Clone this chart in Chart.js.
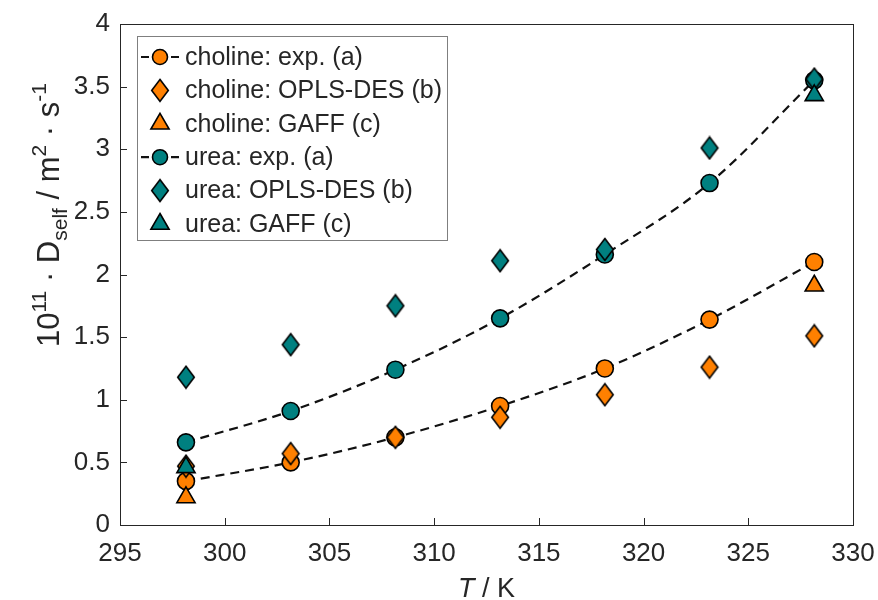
<!DOCTYPE html>
<html><head><meta charset="utf-8">
<script src="https://cdn.jsdelivr.net/npm/chart.js@4.4.1/dist/chart.umd.min.js"></script>
<style>html,body{margin:0;padding:0;background:#fff;}#wrap{width:878px;height:600px;}</style>
</head><body><div id="wrap"><canvas id="c" width="878" height="600"></canvas></div>
<script>
// ---- data ----
const temperatures = [298.15, 303.15, 308.15, 313.15, 318.15, 323.15, 328.15];
const gaffTemperatures = [298.15, 328.15];
const cholineExp  = [0.35, 0.50, 0.70, 0.95, 1.25, 1.64, 2.10];
const cholineOpls = [0.47, 0.57, 0.70, 0.86, 1.04, 1.26, 1.51];
const cholineGaff = [0.22, 1.91];
const ureaExp  = [0.66, 0.91, 1.24, 1.65, 2.16, 2.73, 3.55];
const ureaOpls = [1.18, 1.44, 1.75, 2.11, 2.20, 3.01, 3.56];
const ureaGaff = [0.46, 3.43];
const xTickValues = [295, 300, 305, 310, 315, 320, 325, 330];
const yTickValues = [0, 0.5, 1, 1.5, 2, 2.5, 3, 3.5, 4];
const seriesLabels = ['choline: exp. (a)', 'choline: OPLS-DES (b)', 'choline: GAFF (c)',
                      'urea: exp. (a)', 'urea: OPLS-DES (b)', 'urea: GAFF (c)'];

const ORANGE = '#ff8000';
const TEAL = '#008080';
const FONT = "'Liberation Sans', Arial, Helvetica, sans-serif";
const TXT = '#262626';

function diamondImg(color) {
  const c = document.createElement('canvas');
  c.width = 20; c.height = 25;
  const g = c.getContext('2d');
  g.beginPath();
  g.moveTo(10, 1.5); g.lineTo(18.3, 12.5); g.lineTo(10, 23.5); g.lineTo(1.7, 12.5); g.closePath();
  g.fillStyle = color; g.fill();
  g.lineWidth = 1.6; g.strokeStyle = '#000'; g.lineJoin = 'miter'; g.stroke();
  return c;
}
const dOrange = diamondImg(ORANGE), dTeal = diamondImg(TEAL);

const pts = (xs, ys) => xs.map((x, i) => ({x: x, y: ys[i]}));

function expSet(label, ys, color, order) {
  return {label, data: pts(temperatures, ys), showLine: true, borderColor: '#111', borderWidth: 2.2,
    borderDash: [9, 6], cubicInterpolationMode: 'monotone', pointStyle: 'circle', pointRadius: 8.5,
    pointBackgroundColor: color, pointBorderColor: '#000', pointBorderWidth: 1.6, order, _dashLegend: true, _color: color, _legendRadius: 7.5};
}
function markSet(label, xs, ys, color, style, radius, order) {
  return {label, data: pts(xs, ys), showLine: false, pointStyle: style, pointRadius: radius,
    pointBackgroundColor: color, pointBorderColor: '#000', pointBorderWidth: 1.6, order, _color: color, _legendRadius: radius};
}

const datasets = [
  expSet(seriesLabels[0], cholineExp, ORANGE, 6),
  markSet(seriesLabels[1], temperatures, cholineOpls, ORANGE, dOrange, 10, 5),
  markSet(seriesLabels[2], gaffTemperatures, cholineGaff, ORANGE, 'triangle', 10.5, 4),
  expSet(seriesLabels[3], ureaExp, TEAL, 3),
  markSet(seriesLabels[4], temperatures, ureaOpls, TEAL, dTeal, 10, 2),
  markSet(seriesLabels[5], gaffTemperatures, ureaGaff, TEAL, 'triangle', 10.5, 1)
];

const framePlugin = {
  id: 'frame',
  beforeDatasetsDraw(chart) {
    const {ctx, chartArea: a, scales} = chart;
    ctx.save();
    ctx.strokeStyle = TXT; ctx.lineWidth = 1;
    ctx.strokeRect(Math.round(a.left) + 0.5, Math.round(a.top) + 0.5,
                   Math.round(a.right - a.left), Math.round(a.bottom - a.top));
    ctx.beginPath();
    xTickValues.forEach(v => {
      const x = Math.round(scales.x.getPixelForValue(v)) + 0.5;
      ctx.moveTo(x, a.bottom); ctx.lineTo(x, a.bottom - 7);
    });
    yTickValues.forEach(v => {
      const y = Math.round(scales.y.getPixelForValue(v)) + 0.5;
      ctx.moveTo(a.left, y); ctx.lineTo(a.left + 7, y);
    });
    ctx.stroke();
    ctx.restore();
  },
  afterDatasetsDraw(chart) {
    const {ctx} = chart;
    ctx.save();
    const bx = 137.5, by = 36.5, bw = 310, bh = 204;
    ctx.fillStyle = '#fff'; ctx.fillRect(bx, by, bw, bh);
    ctx.strokeStyle = '#7f7f7f'; ctx.lineWidth = 1; ctx.strokeRect(bx, by, bw, bh);
    chart.data.datasets.forEach((ds, i) => {
      const y = 57 + i * 33.4, mx = 160;
      if (ds._dashLegend) {
        ctx.beginPath(); ctx.strokeStyle = '#111'; ctx.lineWidth = 2.2; ctx.setLineDash([]);
        ctx.moveTo(141, y); ctx.lineTo(149, y); ctx.moveTo(171, y); ctx.lineTo(179, y); ctx.stroke();
      }
      ctx.fillStyle = ds._color; ctx.strokeStyle = '#000'; ctx.lineWidth = 1.6;
      Chart.helpers.drawPoint(ctx, {pointStyle: ds.pointStyle, radius: ds._legendRadius, borderWidth: 1.6}, mx, y);
      ctx.fillStyle = TXT; ctx.font = '25px ' + FONT; ctx.textBaseline = 'middle'; ctx.textAlign = 'left';
      ctx.fillText(ds.label, 185, y + 1);
    });
    ctx.restore();
  },
  afterDraw(chart) {
    const {ctx, chartArea: a} = chart;
    ctx.save();
    ctx.fillStyle = TXT;
    const big = 31, small = 21;
    const parts = [
      {t: '10', s: 0}, {t: '11', s: 1}, {t: ' \u00B7 D', s: 0}, {t: 'self', s: -1},
      {t: ' / m', s: 0}, {t: '2', s: 1}, {t: ' \u00B7 s', s: 0}, {t: '-1', s: 1}
    ];
    let total = 0;
    parts.forEach(p => { ctx.font = (p.s ? small : big) + 'px ' + FONT; p.w = ctx.measureText(p.t).width; total += p.w; });
    ctx.translate(59, 215);
    ctx.rotate(-Math.PI / 2);
    ctx.textBaseline = 'alphabetic'; ctx.textAlign = 'left';
    let x = -total / 2;
    parts.forEach(p => {
      ctx.font = (p.s ? small : big) + 'px ' + FONT;
      const dy = p.s === 1 ? -13 : (p.s === -1 ? 8 : 0);
      ctx.fillText(p.t, x, dy);
      x += p.w;
    });
    ctx.setTransform(1, 0, 0, 1, 0, 0);
    ctx.font = 'italic 27px ' + FONT;
    const wT = ctx.measureText('T').width;
    ctx.font = '27px ' + FONT;
    const wR = ctx.measureText(' / K').width;
    const cx = (a.left + a.right) / 2;
    let sx = cx - (wT + wR) / 2;
    ctx.textBaseline = 'alphabetic';
    ctx.font = 'italic 27px ' + FONT; ctx.fillText('T', sx, 597);
    ctx.font = '27px ' + FONT; ctx.fillText(' / K', sx + wT, 597);
    ctx.restore();
  }
};

new Chart(document.getElementById('c'), {
  type: 'scatter',
  data: {datasets},
  options: {
    responsive: false, animation: false,
    layout: {padding: {top: 24, right: 25, left: 0, bottom: 0}},
    plugins: {legend: {display: false}, tooltip: {enabled: false}},
    scales: {
      x: {
        type: 'linear', min: 295, max: 330,
        afterBuildTicks: s => { s.ticks = xTickValues.map(v => ({value: v})); },
        afterFit: s => { s.height = 75; s.paddingLeft = 0; s.paddingRight = 0; },
        grid: {display: false, drawTicks: false}, border: {display: false},
        ticks: {padding: 13, color: TXT, font: {family: FONT, size: 26}, maxRotation: 0, autoSkip: false,
                callback: v => String(v)}
      },
      y: {
        type: 'linear', min: 0, max: 4,
        afterBuildTicks: s => { s.ticks = yTickValues.map(v => ({value: v})); },
        afterFit: s => { s.width = 120; s.paddingTop = 0; s.paddingBottom = 0; },
        grid: {display: false, drawTicks: false}, border: {display: false},
        ticks: {padding: 10, color: TXT, font: {family: FONT, size: 26}, autoSkip: false,
                callback: v => String(v)}
      }
    }
  },
  plugins: [framePlugin]
});
</script></body></html>
